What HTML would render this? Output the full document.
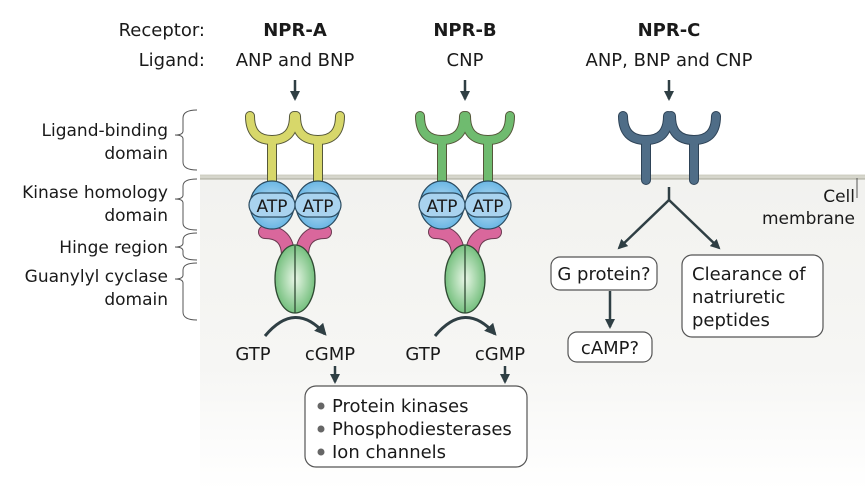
<!DOCTYPE html>
<html><head><meta charset="utf-8"><style>
html,body{margin:0;padding:0;background:#fff;}
svg{display:block;font-family:"DejaVu Sans","Liberation Sans",sans-serif;}
</style></head><body>
<svg width="865" height="490" viewBox="0 0 865 490" xmlns="http://www.w3.org/2000/svg">
<defs>
<linearGradient id="bg" x1="0" y1="0" x2="0" y2="1">
<stop offset="0" stop-color="#f2f2ef"/><stop offset="0.6" stop-color="#f6f6f4"/><stop offset="1" stop-color="#ffffff"/>
</linearGradient>
<radialGradient id="atp" cx="0.5" cy="0.5" r="0.6"><stop offset="0" stop-color="#bfe0f5"/><stop offset="1" stop-color="#5aaee0"/></radialGradient>
<radialGradient id="gc" cx="0.5" cy="0.5" r="0.6"><stop offset="0" stop-color="#e8f6e6"/><stop offset="1" stop-color="#5fb56a"/></radialGradient>
<marker id="ah" viewBox="0 0 10 10" refX="8" refY="5" markerWidth="4" markerHeight="4" orient="auto"><path d="M0,0 L10,5 L0,10 z" fill="#2f3f44"/></marker>
<g id="rec">
 <g stroke="#55573a" stroke-width="10" stroke-linecap="round" fill="none">
  <path d="M-45,116 Q-45,140 -23,140 Q-1,140 -1,116"/>
  <path d="M1,116 Q1,140 23,140 Q45,140 45,116"/>
  <line x1="-23" y1="140" x2="-23" y2="185"/><line x1="23" y1="140" x2="23" y2="185"/>
 </g>
 <g stroke="var(--c)" stroke-width="8" stroke-linecap="round" fill="none">
  <path d="M-45,116 Q-45,140 -23,140 Q-1,140 -1,116"/>
  <path d="M1,116 Q1,140 23,140 Q45,140 45,116"/>
  <line x1="-23" y1="140" x2="-23" y2="185"/><line x1="23" y1="140" x2="23" y2="185"/>
 </g>
 <g fill="none" stroke-linecap="round">
  <path d="M-30,232 Q-7,232 -7,256" stroke="#6a3a50" stroke-width="14"/>
  <path d="M30,232 Q7,232 7,256" stroke="#6a3a50" stroke-width="14"/>
  <path d="M-30,232 Q-7,232 -7,256" stroke="#d9679c" stroke-width="12"/>
  <path d="M30,232 Q7,232 7,256" stroke="#d9679c" stroke-width="12"/>
 </g>
 <ellipse cx="0" cy="279" rx="20" ry="34" fill="url(#gc)" stroke="#2f4a33" stroke-width="1.3"/>
 <line x1="0" y1="246" x2="0" y2="313" stroke="#2f4a33" stroke-width="1.3"/>
 <g stroke="#2b4b60" stroke-width="1.2">
  <ellipse cx="-23" cy="205" rx="22" ry="24" fill="url(#atp)"/>
  <rect x="-46" y="193" width="46" height="24" rx="12" fill="#a9d3ef"/>
  <ellipse cx="23" cy="205" rx="22" ry="24" fill="url(#atp)"/>
  <rect x="0" y="193" width="46" height="24" rx="12" fill="#a9d3ef"/>
 </g>
 <text x="-23" y="212" font-size="17" text-anchor="middle" fill="#1a1a1a">ATP</text>
 <text x="23" y="212" font-size="17" text-anchor="middle" fill="#1a1a1a">ATP</text>
 <path d="M-30,336 Q0,300 30,334" fill="none" stroke="#2f3f44" stroke-width="3" marker-end="url(#ah)"/>
 <text x="-42" y="360" font-size="18" text-anchor="middle" fill="#1a1a1a">GTP</text>
 <text x="35" y="360" font-size="18" text-anchor="middle" fill="#1a1a1a">cGMP</text>
 <line x1="40" y1="366" x2="40" y2="382" stroke="#2f3f44" stroke-width="2.5" marker-end="url(#ah)"/>
 <line x1="0" y1="80" x2="0" y2="99" stroke="#2f3f44" stroke-width="2.5" marker-end="url(#ah)"/>
</g>
</defs>
<rect x="200" y="178" width="665" height="312" fill="url(#bg)"/>
<rect x="200" y="175" width="665" height="4" fill="#d6d6cc"/>
<line x1="200" y1="179" x2="865" y2="179" stroke="#a8a89a" stroke-width="1"/>
<line x1="200" y1="175" x2="865" y2="175" stroke="#c4c4b8" stroke-width="0.8"/>

<g font-size="18" fill="#1a1a1a">
<text x="205" y="36" text-anchor="end">Receptor:</text>
<text x="205" y="66" text-anchor="end">Ligand:</text>
<text x="295" y="36" text-anchor="middle" font-weight="bold">NPR-A</text>
<text x="295" y="66" text-anchor="middle">ANP and BNP</text>
<text x="465" y="36" text-anchor="middle" font-weight="bold">NPR-B</text>
<text x="465" y="66" text-anchor="middle">CNP</text>
<text x="669" y="36" text-anchor="middle" font-weight="bold">NPR-C</text>
<text x="669" y="66" text-anchor="middle">ANP, BNP and CNP</text>
</g>
<g font-size="17" fill="#1a1a1a" text-anchor="end">
<text x="168" y="136">Ligand-binding</text><text x="168" y="159">domain</text>
<text x="168" y="198">Kinase homology</text><text x="168" y="221">domain</text>
<text x="168" y="253">Hinge region</text>
<text x="168" y="282">Guanylyl cyclase</text><text x="168" y="305">domain</text>
<text x="855" y="202">Cell</text><text x="855" y="224">membrane</text>
</g>
<line x1="857" y1="178" x2="857" y2="198" stroke="#555" stroke-width="1"/>
<g fill="none" stroke="#555" stroke-width="1">
<path d="M197,110 Q183,110 183,118 L183,131 Q183,135 175,135 Q183,135 183,139 L183,162 Q183,170 197,170"/>
<path d="M197,179 Q183,179 183,186 L183,195 Q183,199 175,199 Q183,199 183,203 L183,223 Q183,230 197,230"/>
<path d="M197,233 Q183,233 183,240 L183,243 Q183,247 175,247 Q183,247 183,251 L183,254 Q183,260 197,260"/>
<path d="M197,263 Q183,263 183,270 L183,275 Q183,279 175,279 Q183,279 183,283 L183,312 Q183,320 197,320"/>
</g>

<g transform="translate(295,0)" style="--c:#d7d76a"><use href="#rec"/></g>
<g transform="translate(465,0)" style="--c:#6fbb6f"><use href="#rec"/></g>

<line x1="669" y1="80" x2="669" y2="99" stroke="#2f3f44" stroke-width="2.5" marker-end="url(#ah)"/>
<g stroke="#2e4357" stroke-width="10" stroke-linecap="round" fill="none">
 <path d="M623,116 Q623,140 646,140 Q668,140 668,116"/><path d="M671,116 Q671,140 694,140 Q716,140 716,116"/>
 <line x1="646" y1="140" x2="646" y2="180"/><line x1="694" y1="140" x2="694" y2="180"/>
</g>
<g stroke="#4f6d87" stroke-width="8" stroke-linecap="round" fill="none">
 <path d="M623,116 Q623,140 646,140 Q668,140 668,116"/><path d="M671,116 Q671,140 694,140 Q716,140 716,116"/>
 <line x1="646" y1="140" x2="646" y2="180"/><line x1="694" y1="140" x2="694" y2="180"/>
</g>
<g stroke="#2f3f44" stroke-width="2.5" fill="none">
<line x1="669" y1="187" x2="669" y2="200"/>
<line x1="669" y1="200" x2="619" y2="248" marker-end="url(#ah)"/>
<line x1="669" y1="200" x2="719" y2="248" marker-end="url(#ah)"/>
<line x1="610" y1="291" x2="610" y2="327" marker-end="url(#ah)"/>
</g>
<g fill="#fff" stroke="#555" stroke-width="1.2">
<rect x="551" y="257" width="106" height="33" rx="9"/>
<rect x="682" y="255" width="141" height="82" rx="10"/>
<rect x="568" y="332" width="84" height="30" rx="9"/>
<rect x="305" y="386" width="222" height="81" rx="11"/>
</g>
<g font-size="18" fill="#1a1a1a">
<text x="604" y="280" text-anchor="middle">G protein?</text>
<text x="692" y="280">Clearance of</text>
<text x="692" y="303">natriuretic</text>
<text x="692" y="326">peptides</text>
<text x="610" y="354" text-anchor="middle">cAMP?</text>
<text x="332" y="412">Protein kinases</text>
<text x="332" y="435">Phosphodiesterases</text>
<text x="332" y="458">Ion channels</text>
</g>
<g fill="#666"><circle cx="321" cy="406" r="3.5"/><circle cx="321" cy="429" r="3.5"/><circle cx="321" cy="452" r="3.5"/></g>
</svg>
</body></html>
